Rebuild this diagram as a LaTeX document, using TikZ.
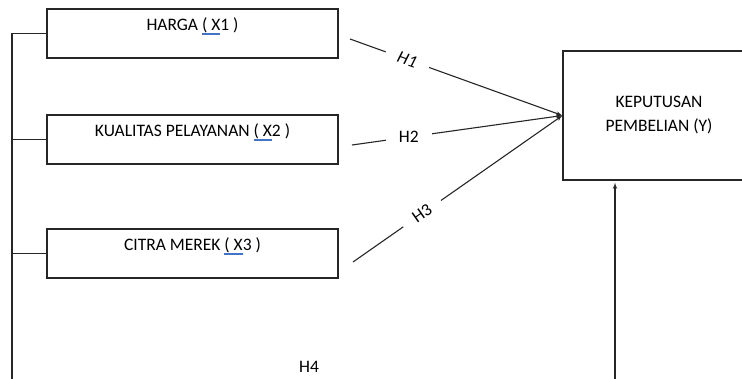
\documentclass[tikz,border=0pt]{standalone}
\usepackage{fontspec}
\setmainfont{Carlito}
\usepackage{tikz}
\usetikzlibrary{shapes,arrows,calc,positioning}
\usepackage{xcolor}
\definecolor{spellblue}{RGB}{68,114,196}
\newcommand{\spell}[1]{\setbox0\hbox{#1}\rlap{\color{spellblue}\rule[-2.2pt]{\wd0}{0.6pt}\kern-\wd0\rule[-3.8pt]{\wd0}{0.6pt}}\box0\relax}
\tikzstyle{block} = [rectangle, draw, minimum width=291pt, inner sep=0pt, text height=22pt, text depth=27pt]
\tikzstyle{target} = [rectangle, draw, minimum width=192pt, minimum height=129pt, align=center]
\tikzstyle{line} = [draw, -latex']
\tikzstyle{hyp} = [fill=white, inner xsep=13pt, inner ysep=2pt]

\begin{document}
\begin{tikzpicture}[x=1pt, y=-1pt, line width=1.1pt, draw=black!85, font=\fontsize{17.5}{24}\selectfont]
		\clip (0,0) rectangle (742,379);
		% Place nodes
		\node [block] (x1) at (192.5,33.5) {HARGA \spell{( X}1 )};
		\node [block, below of=x1, node distance=106pt] (x2) {KUALITAS PELAYANAN \spell{( X}2 )};
		\node [block, below of=x2, node distance=114pt] (x3) {CITRA MEREK \spell{( X}3 )};
		\node [target] (ybox) at (659,115.5) {KEPUTUSAN\\PEMBELIAN (Y)};
		\node (h4) at (309,367) {H4};
		
		\coordinate (h1start) at (350,39);
		\coordinate (h2start) at (352,145);
		\coordinate (h3start) at (353,262);
		\coordinate (leftbot) at (12,379);
		\coordinate (ybot) at (615,379);
		
		% Draw edges
		\draw (x1.west) -| (leftbot);
		\draw (x2.west) -- (x2.west -| leftbot);
		\draw (x3.west) -- (x3.west -| leftbot);
		
		\path [line] (h1start) -- node [hyp, sloped, pos=0.27] {\textit{H1}} (ybox.west);
		\path [line] (h2start) -- node [hyp, pos=0.27] {H2} (ybox.west);
		\path [line] (h3start) -- node [hyp, sloped, pos=0.33] {H3} (ybox.west);
		\path [line, shorten >=2pt] (ybot) -- (ybot |- ybox.south);
	\end{tikzpicture}
\end{document}
